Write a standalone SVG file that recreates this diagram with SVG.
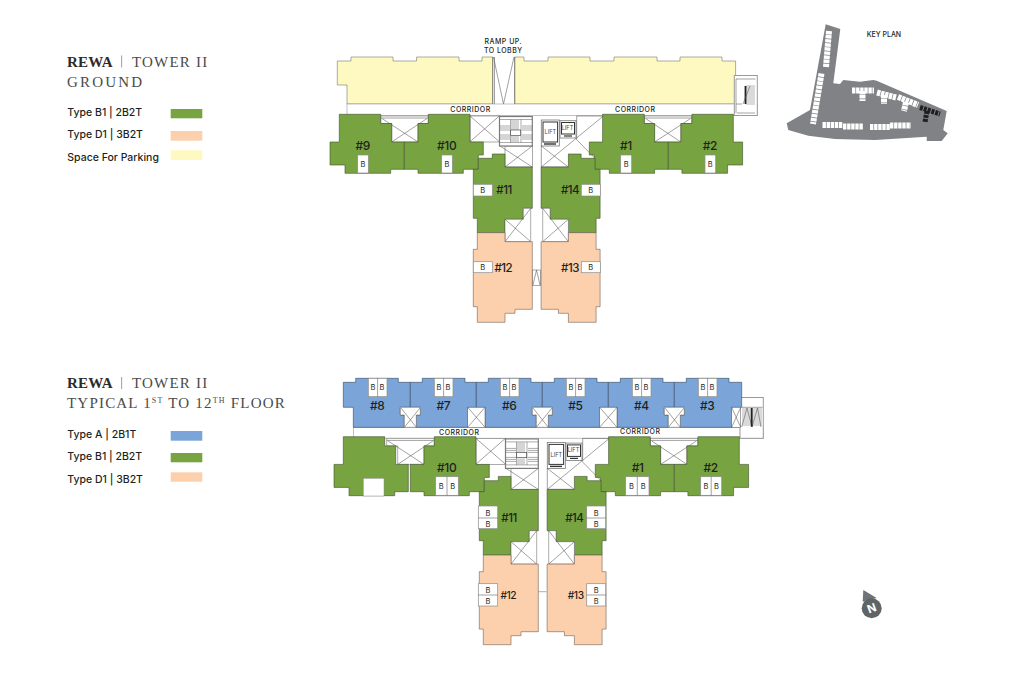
<svg xmlns="http://www.w3.org/2000/svg" xmlns:xlink="http://www.w3.org/1999/xlink" width="1020" height="674" viewBox="0 0 1020 674">
<style>
text{font-family:"Inter","Liberation Sans",sans-serif;fill:#231f20}
.title{font-family:"Liberation Serif",serif;font-size:15px;letter-spacing:1.2px;fill:#4a4a4a}
.ground{letter-spacing:2.2px}
.typ{letter-spacing:1.2px}
.titleb{font-family:"Liberation Serif",serif;font-size:15px;font-weight:700;letter-spacing:.2px;fill:#2b2b2b}
.leg{font-size:10.5px;font-weight:500}
.cor{font-size:7px;letter-spacing:.5px;font-weight:500;text-anchor:middle}
.num{font-size:12px;font-weight:500;text-anchor:middle;letter-spacing:-.4px}
.numM{font-size:11.5px;font-weight:500;text-anchor:middle;letter-spacing:-.5px}
.numS{font-size:10.2px;font-weight:500;text-anchor:middle;letter-spacing:-.4px}
.b{font-size:7.5px;text-anchor:middle;font-weight:400}
.lift{font-size:5.6px;text-anchor:middle;fill:#444}
.g{fill:#77a441;stroke:#3f4d2c;stroke-width:.6}
.p{fill:#fdd0ad;stroke:#6b6259;stroke-width:.6}
.y{fill:#fef9c0;stroke:#77766a;stroke-width:.6}
.bl{fill:#7ba5d9;stroke:#35465c;stroke-width:.6}
.box{fill:#fff;stroke:#8c8c8c;stroke-width:.7}
.l{fill:none;stroke:#555;stroke-width:.55}
.wl{fill:#fff;stroke:#666;stroke-width:.55}
.st{fill:#fff;stroke:#7a7a7a;stroke-width:1.2}
.k{fill:none;stroke:#fff;stroke-width:6;stroke-dasharray:3.4 .7}
.kb{fill:none;stroke:#1f1f1f;stroke-width:5;stroke-dasharray:3 1}
</style>
<defs>
<polygon id="pL" points="339.3,114.3 380.7,114.3 380.7,123.5 391.7,123.5 391.7,142 404.3,142 404.3,169.3 390.7,169.3 390.7,173.3 345,173.3 345,165 330,165 330,142 339.3,142"/>
<polygon id="pR" points="404.3,142 418,142 418,123.5 428.3,123.5 428.3,114.3 470,114.3 470,142 483.3,142 483.3,155 478.3,155 478.3,169.3 463.3,169.3 463.3,173.3 418,173.3 418,169.3 404.3,169.3"/>
<polygon id="pW" points="478.3,158.3 492.3,158.3 492.3,154 505,154 505,167 532.3,167 532.3,208.3 523.3,208.3 523.3,219.3 505,219.3 505,232.7 477.3,232.7 477.3,218.3 473.3,218.3 473.3,169.3 478.3,169.3"/>
<polygon id="pS" points="477.3,232.7 505,232.7 505,241.7 532.3,241.7 532.3,309.3 515,309.3 515,313.3 505,313.3 505,322.3 477.3,322.3 477.3,306.7 473.3,306.7 473.3,249.3 477.3,249.3"/>
<g id="xT">
<polygon class="wl" points="380.7,116 428.3,116 428.3,123.5 418,123.5 418,142 391.7,142 391.7,123.5 380.7,123.5"/>
<path class="l" d="M380.7,118H428.3M382,118.5L418,142M427,118.5L391.7,142"/>
</g>
<g id="xW">
<path class="wl" d="M505,219.3H523.3V208.3H530.7V241.7H505Z"/>
<path class="l" d="M505,241.7L530.7,208.3M505,219.3L530.7,241.7"/>
</g>
<g id="core">
<rect class="wl" x="470" y="116" width="29.3" height="26"/>
<path class="l" d="M470,116L499.3,141.7M499.3,116L470,141.7"/>
<rect class="wl" x="505" y="146" width="27.3" height="21"/>
<path class="l" d="M505,167L532.3,146M500,146L532.3,167"/>
<rect class="st" x="499.5" y="116.5" width="32.8" height="29.5"/>
<path fill="none" stroke="#444" stroke-width=".45" d="M500,119.5H532M500,126H510M522,126H532M500,128H510M522,128H532M500,130H510M522,130H532M500,135H510M522,135H532M500,137H510M522,137H532M500,139H510M522,139H532M500,142.5H532M510.5,119.5V142.5M521,119.5V142.5M512,120V130M514,120V130M516,120V130M518,120V130M512,136V142M514,136V142M516,136V142M518,136V142"/>
<rect x="510.7" y="130" width="10" height="5.3" fill="#fff" stroke="#333" stroke-width=".6"/>
<rect x="541.3" y="120" width="18" height="26" fill="#fff" stroke="#777" stroke-width=".8"/>
<rect x="543" y="122" width="14.6" height="20" fill="#fff" stroke="#333" stroke-width="1"/>
<path stroke="#333" stroke-width="1.4" d="M544,144H556"/>
<rect x="560" y="120.7" width="16" height="17.3" fill="#fff" stroke="#777" stroke-width=".8"/>
<rect x="561.5" y="122.5" width="13" height="11.5" fill="#fff" stroke="#333" stroke-width="1"/>
<path stroke="#333" stroke-width="1.2" d="M564,136H572"/>
<text class="lift" x="550.3" y="134.3">LIFT</text>
<text class="lift" x="567.5" y="130">LIFT</text>
<path class="l" d="M576.7,116H603.3M576.7,116V139M541.3,167L603.3,116M541.3,146L568.3,167M576,139L595,158.3M541.3,146V167H568.3"/>
</g>
</defs>

<rect width="1020" height="674" fill="#fff"/>

<g id="legend-ground">
<text class="titleb" x="67" y="66.7">REWA</text><rect x="121.3" y="55.5" width=".8" height="12" fill="#888"/><text class="title" x="132" y="66.7">TOWER II</text>
<text class="title ground" x="67" y="86.7">GROUND</text>
<text class="leg" x="67.3" y="116">Type B1 | 2B2T</text><rect x="170.7" y="109" width="31.6" height="9.3" fill="#77a441"/>
<text class="leg" x="67.3" y="138.3">Type D1 | 3B2T</text><rect x="170.7" y="131" width="31.6" height="9.7" fill="#fdd0ad"/>
<text class="leg" x="67.3" y="160.7">Space For Parking</text><rect x="170.7" y="150.3" width="31.6" height="9.7" fill="#fef9c0"/>
</g>

<g id="legend-typical">
<text class="titleb" x="67" y="388.3">REWA</text><rect x="121.3" y="377" width=".8" height="12" fill="#888"/><text class="title" x="132" y="388.3">TOWER II</text>
<text class="title typ" x="67" y="408.3">TYPICAL 1<tspan dy="-5" font-size="8">ST</tspan><tspan dy="5"> TO 12</tspan><tspan dy="-5" font-size="8">TH</tspan><tspan dy="5"> FLOOR</tspan></text>
<text class="leg" x="67.3" y="438.3">Type A | 2B1T</text><rect x="170.7" y="431" width="31.6" height="9.7" fill="#7ba5d9"/>
<text class="leg" x="67.3" y="460">Type B1 | 2B2T</text><rect x="170.7" y="453" width="31.6" height="9.3" fill="#77a441"/>
<text class="leg" x="67.3" y="482.7">Type D1 | 3B2T</text><rect x="170.7" y="472.3" width="31.6" height="9.4" fill="#fdd0ad"/>
</g>

<g id="ground-parking">
<polygon class="y" points="337.3,61 351,61 351,57 393,57 393,61 416.6,61 416.6,57 459,57 459,61 482,61 482,57 492.7,57 492.7,104 347,104 347,85 337.3,85"/>
<polygon class="y" points="514.7,57 524,57 524,61 548,61 548,57 590,57 590,61 614,61 614,57 657,57 657,61 680,61 680,57 722,57 722,61 735.6,61 735.6,104 514.7,104"/>
<path class="l" d="M492.7,57V104M494.5,57V104M514.7,57V104M493.5,57L503.5,104L514,57"/>
</g>

<g id="ground-core">
<rect x="347" y="104" width="410.7" height="11.6" fill="#fff" stroke="#999" stroke-width=".6"/>
<rect x="734.3" y="75.5" width="23" height="40" fill="#fff" stroke="#999" stroke-width="1"/>
<path class="l" d="M736,79H755.5M736,104H742M736,79V113M737,113H755"/>
<path fill="none" stroke="#444" stroke-width=".4" d="M746,86H755M746,88H755M746,90H755M746,92H755M746,94H755M746,96H755M746,98H755M746,100H755M746,102H755M746,104H755"/>
<path stroke="#222" stroke-width="1.8" d="M745.5,86V104"/>
<path class="l" d="M750,86L743,104"/>
<text class="cor" x="470.5" y="112">CORRIDOR</text>
<text class="cor" x="635.3" y="112">CORRIDOR</text>
<text x="503.3" y="44.3" class="cor">RAMP UP.</text>
<text x="503.3" y="53.3" class="cor">TO LOBBY</text>
<use href="#xT"/>
<use href="#xT" transform="matrix(-1 0 0 1 1072.6 0)"/>
<use href="#core"/>
<rect class="wl" x="532.3" y="270" width="8.4" height="15.7"/>
<path class="l" d="M532.8,285.7L536.5,270L540.2,285.7"/>
</g>

<g id="g-9"><use href="#pL" class="g"/><rect class="box" x="357.7" y="155" width="10.6" height="18"/><text class="num" x="362.7" y="150">#9</text><text class="b" x="363" y="167">B</text></g>
<g id="g-10"><use href="#pR" class="g"/><rect class="box" x="441.7" y="155" width="10.6" height="18"/><text class="num" x="446.7" y="150">#10</text><text class="b" x="447" y="167">B</text></g>
<g id="g-1"><use href="#pR" class="g" transform="matrix(-1 0 0 1 1072.6 0)"/><rect class="box" x="620.7" y="155" width="11" height="18"/><text class="num" x="626" y="150">#1</text><text class="b" x="626.2" y="167">B</text></g>
<g id="g-2"><use href="#pL" class="g" transform="matrix(-1 0 0 1 1072.6 0)"/><rect class="box" x="705" y="155" width="10.7" height="18"/><text class="num" x="710" y="150">#2</text><text class="b" x="710.3" y="167">B</text></g>
<g id="g-11"><use href="#pW" class="g"/><use href="#xW"/><rect class="box" x="473.3" y="184.3" width="19" height="11.7"/><text class="numM" x="504" y="194.3">#11</text><text class="b" x="482.8" y="193">B</text></g>
<g id="g-14"><use href="#pW" class="g" transform="matrix(-1 0 0 1 1073.4 0)"/><use href="#xW" transform="matrix(-1 0 0 1 1073.4 0)"/><rect class="box" x="581.3" y="184.3" width="19" height="11.7"/><text class="numM" x="570" y="194.3">#14</text><text class="b" x="590.8" y="193">B</text></g>
<g id="g-12"><use href="#pS" class="p"/><rect class="box" x="473.3" y="261.7" width="19" height="11"/><text class="numM" x="503.3" y="272.3">#12</text><text class="b" x="482.8" y="270">B</text></g>
<g id="g-13"><use href="#pS" class="p" transform="matrix(-1 0 0 1 1073.4 0)"/><rect class="box" x="581.3" y="261.7" width="19" height="11"/><text class="numM" x="570" y="272.3">#13</text><text class="b" x="590.8" y="270">B</text></g>

<g id="typical-core">
<rect x="353.3" y="427.3" width="410" height="10.9" fill="#fff" stroke="#999" stroke-width=".6"/>
<rect x="740" y="397.5" width="23.3" height="40.8" fill="#fff" stroke="#999" stroke-width="1"/>
<path fill="none" stroke="#444" stroke-width=".4" d="M742,409H762M742,411H762M742,413H762M742,415H762M742,417H762M742,419H762M742,421H762M742,423H762M742,425H762"/>
<path class="l" d="M741.7,427L747,408L752,427L757.5,408L761,427M741.7,407.3H762.5"/>
<path stroke="#222" stroke-width="1.8" d="M751.7,408V426.7"/>
<text class="cor" x="459.3" y="434.7">CORRIDOR</text>
<text class="cor" x="640.3" y="434">CORRIDOR</text>
<use href="#xT" transform="translate(6 322.4)"/>
<use href="#xT" transform="matrix(-1 0 0 1 1078.6 322.4)"/>
<use href="#core" transform="translate(6 322.4)"/>
<path stroke="#999" stroke-width=".8" d="M538,591.7H546.5"/>
</g>

<g id="t-8"><polygon class="bl" points="343.3,382.3 355.7,382.3 355.7,378.3 398.3,378.3 398.3,382.3 410.3,382.3 410.3,407.3 400.3,407.3 400.3,415 404.3,415 404.3,427.3 353.3,427.3 353.3,407.3 343.3,407.3"/><rect class="box" x="368.3" y="378.3" width="18.7" height="18.4"/><path class="l" d="M377.6,378.3V396.7"/><text class="b" x="373" y="390">B</text><text class="b" x="382" y="390">B</text><text class="num" x="377.3" y="410">#8</text></g>
<g id="t-7"><polygon class="bl" points="410.3,382.3 422.3,382.3 422.3,378.3 465,378.3 465,382.3 476.3,382.3 476.3,407.3 467.7,407.3 467.7,427.3 416.3,427.3 416.3,415 420.3,415 420.3,407.3 410.3,407.3"/><rect class="box" x="434.3" y="378.3" width="18.7" height="18.4"/><path class="l" d="M443.6,378.3V396.7"/><text class="b" x="439" y="390">B</text><text class="b" x="448" y="390">B</text><text class="num" x="443.3" y="410">#7</text></g>
<g id="t-6"><polygon class="bl" points="476.3,382.3 488.3,382.3 488.3,378.3 531,378.3 531,382.3 542.3,382.3 542.3,407.3 532.3,407.3 532.3,415 536.3,415 536.3,427.3 485,427.3 485,407.3 476.3,407.3"/><rect class="box" x="500.3" y="378.3" width="18.7" height="18.4"/><path class="l" d="M509.6,378.3V396.7"/><text class="b" x="505" y="390">B</text><text class="b" x="514" y="390">B</text><text class="num" x="509.3" y="410">#6</text></g>
<g id="t-5"><polygon class="bl" points="542.3,382.3 554.3,382.3 554.3,378.3 597,378.3 597,382.3 608.3,382.3 608.3,407.3 599.7,407.3 599.7,427.3 548.3,427.3 548.3,415 552.3,415 552.3,407.3 542.3,407.3"/><rect class="box" x="566.3" y="378.3" width="18.7" height="18.4"/><path class="l" d="M575.6,378.3V396.7"/><text class="b" x="571" y="390">B</text><text class="b" x="580" y="390">B</text><text class="num" x="575.3" y="410">#5</text></g>
<g id="t-4"><polygon class="bl" points="608.3,382.3 620.3,382.3 620.3,378.3 663,378.3 663,382.3 674.3,382.3 674.3,407.3 664.3,407.3 664.3,415 668.3,415 668.3,427.3 617,427.3 617,407.3 608.3,407.3"/><rect class="box" x="632.3" y="378.3" width="18.7" height="18.4"/><path class="l" d="M641.6,378.3V396.7"/><text class="b" x="637" y="390">B</text><text class="b" x="646" y="390">B</text><text class="num" x="641.3" y="410">#4</text></g>
<g id="t-3"><polygon class="bl" points="674.3,382.3 686.3,382.3 686.3,378.3 729,378.3 729,382.3 741.7,382.3 741.7,407.3 731.7,407.3 731.7,427.3 680.3,427.3 680.3,415 684.3,415 684.3,407.3 674.3,407.3"/><rect class="box" x="698.3" y="378.3" width="18.7" height="18.4"/><path class="l" d="M707.6,378.3V396.7"/><text class="b" x="703" y="390">B</text><text class="b" x="712" y="390">B</text><text class="num" x="707.3" y="410">#3</text></g>

<g id="notches" class="l">
<path class="wl" d="M400.3,407.3H420.3V415H416.3V427.3H404.3V415H400.3Z"/><path d="M401,408L416.3,427.3M420,408L404.3,427.3"/>
<rect class="wl" x="467.7" y="407.3" width="17.3" height="20"/><path d="M467.7,407.3L485,427.3M485,407.3L467.7,427.3"/>
<path class="wl" d="M532.3,407.3H552.3V415H548.3V427.3H536.3V415H532.3Z"/><path d="M533,408L548.3,427.3M552,408L536.3,427.3"/>
<rect class="wl" x="599.7" y="407.3" width="17.3" height="20"/><path d="M599.7,407.3L617,427.3M617,407.3L599.7,427.3"/>
<path class="wl" d="M664.3,407.3H684.3V415H680.3V427.3H668.3V415H664.3Z"/><path d="M665,408L680.3,427.3M684,408L668.3,427.3"/>
<rect class="wl" x="731.7" y="407.3" width="9" height="20"/><path d="M731.7,407.3L740.7,427.3M740.7,407.3L731.7,427.3"/>
</g>

<g id="t-9"><use href="#pL" class="g" transform="translate(4 322.4)"/><rect x="363.3" y="478.3" width="20.7" height="17.7" fill="#fff" stroke="#8c8c8c" stroke-width=".5"/></g>
<g id="t-10"><use href="#pR" class="g" transform="translate(6 322.4)"/><rect class="box" x="435.7" y="476.7" width="22.6" height="18.6"/><path class="l" d="M447,476.7V495.3"/><text class="num" x="446.7" y="472.3">#10</text><text class="b" x="441.3" y="489">B</text><text class="b" x="452.7" y="489">B</text></g>
<g id="t-1"><use href="#pR" class="g" transform="matrix(-1 0 0 1 1078.6 322.4)"/><rect class="box" x="625.7" y="476.7" width="23.3" height="18.6"/><path class="l" d="M637.3,476.7V495.3"/><text class="num" x="637.7" y="472.3">#1</text><text class="b" x="631.5" y="489">B</text><text class="b" x="643.2" y="489">B</text></g>
<g id="t-2"><use href="#pL" class="g" transform="matrix(-1 0 0 1 1078.6 322.4)"/><rect class="box" x="700.7" y="476.7" width="21" height="18.6"/><path class="l" d="M711.2,476.7V495.3"/><text class="num" x="710.7" y="472.3">#2</text><text class="b" x="706" y="489">B</text><text class="b" x="716.4" y="489">B</text></g>
<g id="t-11"><use href="#pW" class="g" transform="translate(6 322.4)"/><use href="#xW" transform="translate(6 322.4)"/><rect class="box" x="478.3" y="506" width="19.4" height="22.7"/><path class="l" d="M478.3,518H497.7"/><text class="numM" x="509" y="521.7">#11</text><text class="b" x="488" y="515.5">B</text><text class="b" x="488" y="526.5">B</text></g>
<g id="t-14"><use href="#pW" class="g" transform="matrix(-1 0 0 1 1079.4 322.4)"/><use href="#xW" transform="matrix(-1 0 0 1 1079.4 322.4)"/><rect class="box" x="586.7" y="506" width="19" height="22.7"/><path class="l" d="M586.7,518H605.7"/><text class="numM" x="574.3" y="521.7">#14</text><text class="b" x="596.2" y="515.5">B</text><text class="b" x="596.2" y="526.5">B</text></g>
<g id="t-12"><use href="#pS" class="p" transform="translate(6 322.4)"/><rect class="box" x="478.3" y="583.7" width="19.4" height="22.3"/><path class="l" d="M478.3,595H497.7"/><text class="numS" x="508.3" y="599">#12</text><text class="b" x="488" y="592.5">B</text><text class="b" x="488" y="603.5">B</text></g>
<g id="t-13"><use href="#pS" class="p" transform="matrix(-1 0 0 1 1079.4 322.4)"/><rect class="box" x="586.7" y="583.7" width="19" height="22.3"/><path class="l" d="M586.7,595H605.7"/><text class="numS" x="575.7" y="599">#13</text><text class="b" x="596.2" y="592.5">B</text><text class="b" x="596.2" y="603.5">B</text></g>

<g id="key-plan">
<polygon fill="#808285" points="825.7,24.3 840.3,29 833.3,83.3 840,84 843.3,80 860,81.7 873.3,80 876.7,80.7 946.7,111 943.3,130 947.7,133.3 941.7,141 926.7,141 926.7,136.7 875,140 835,139 808.3,135.7 788.3,130 786.7,123.3 810,110"/>
<path class="k" d="M829,31L826,67"/>
<path class="k" d="M821.5,73.5L813,124"/>
<path class="k" d="M822.5,125H843M843,126.5H863M870,127H890M890,125.5H911"/>
<path class="k" d="M852,90.5H874M862.5,91V101"/>
<path class="k" d="M877,92.5L896,97.5M884,95V104"/>
<path class="k" d="M898,97L918,105M906,102L904,111"/>
<path class="kb" d="M920,107.5L940,114M927,111L925,122"/>
<text x="866.7" y="36.7" style="font-size:7px;font-weight:500">KEY PLAN</text>
</g>

<g id="north">
<polygon fill="#6f7477" points="863.3,590 876.7,598 862.7,601.7"/>
<circle cx="871.7" cy="608.3" r="10" fill="#5f6467"/>
<text x="871.7" y="612.3" text-anchor="middle" transform="rotate(-20 871.7 608.3)" style="font-size:11.5px;font-weight:700;fill:#fff">N</text>
</g>
</svg>
